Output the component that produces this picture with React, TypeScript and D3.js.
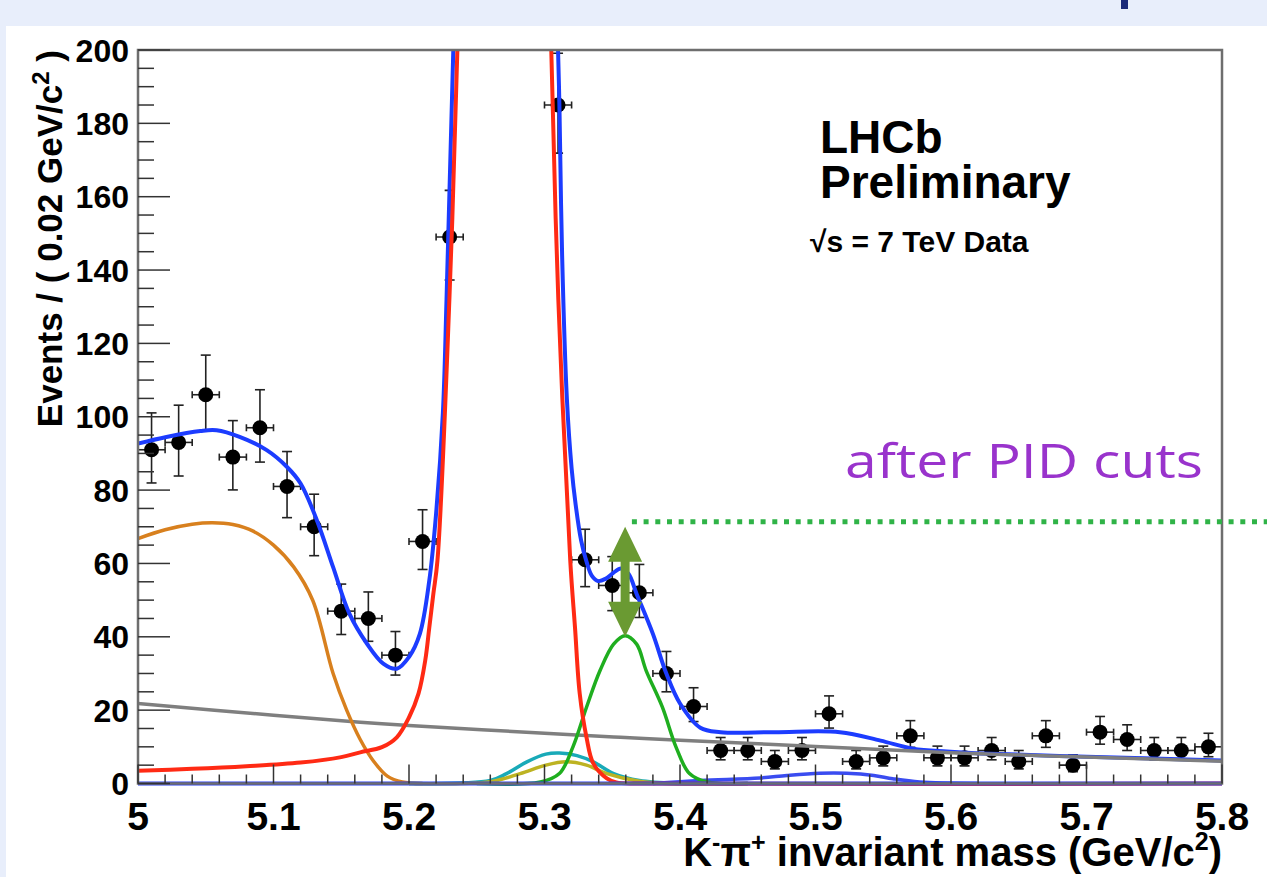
import React from "react";
import * as d3 from "d3";

// ---------- data ----------
const binCenters = [
  5.01, 5.03, 5.05, 5.07, 5.09, 5.11, 5.13, 5.15, 5.17, 5.19,
  5.21, 5.23, 5.25, 5.27, 5.29, 5.31, 5.33, 5.35, 5.37, 5.39,
  5.41, 5.43, 5.45, 5.47, 5.49, 5.51, 5.53, 5.55, 5.57, 5.59,
  5.61, 5.63, 5.65, 5.67, 5.69, 5.71, 5.73, 5.75, 5.77, 5.79,
];
const counts = [
  91, 93, 106, 89, 97, 81, 70, 47, 45, 35,
  66, 149, 420, 640, 480, 185, 61, 54, 52, 30,
  21, 9, 9, 6, 9, 19, 6, 7, 13, 7,
  7, 9, 6, 13, 5, 14, 12, 9, 9, 10,
];

const totalMass = [5.0, 5.021, 5.046, 5.058, 5.075, 5.095, 5.11, 5.12, 5.132, 5.144, 5.156, 5.169, 5.181, 5.191, 5.2, 5.208, 5.215, 5.22, 5.225, 5.2277, 5.2327, 5.25, 5.27, 5.29, 5.31, 5.3111, 5.313, 5.3165, 5.32, 5.323, 5.327, 5.331, 5.335, 5.3395, 5.345, 5.351, 5.3565, 5.362, 5.368, 5.38, 5.39, 5.4, 5.415, 5.43, 5.47, 5.518, 5.548, 5.572, 5.597, 5.622, 5.7, 5.8];
const totalVal = [92.7, 94.5, 96.1, 96.3, 94.5, 90.9, 86.3, 81.8, 71.8, 59, 46.3, 38.1, 32.7, 31.3, 34.5, 40.8, 55.4, 73.6, 101, 132, 200, 450, 700, 450, 200, 183, 144, 105, 86, 76, 66.3, 60.5, 56.6, 55.2, 55.8, 57.5, 58.6, 57.2, 51.7, 40.8, 29.9, 21.8, 15.2, 14, 14, 14, 11.7, 9.5, 8.7, 8.2, 7.3, 6.3];

const redMass = [5.0, 5.04, 5.08, 5.12, 5.15, 5.164, 5.18, 5.191, 5.2, 5.207, 5.212, 5.215, 5.218, 5.221, 5.2298, 5.2357, 5.25, 5.27, 5.29, 5.305, 5.3102, 5.319, 5.3225, 5.326, 5.331, 5.336, 5.346, 5.353, 5.37, 5.8];
const redVal = [3.5, 4.0, 4.7, 5.7, 7.2, 8.5, 9.9, 12.6, 18, 24.5, 33.6, 42.6, 51.8, 60.8, 132, 200, 420, 680, 420, 200, 132, 60.8, 42.6, 24.5, 12.6, 5.5, 1.4, 0.3, 0, 0];

const orangeMass = [5.0, 5.02, 5.04, 5.055, 5.07, 5.085, 5.1, 5.115, 5.129, 5.144, 5.154, 5.164, 5.174, 5.184, 5.195, 5.21];
const orangeVal = [66.8, 69.2, 70.7, 71.1, 70.6, 68.8, 65, 59, 49.9, 30, 20, 12, 6, 2, 0.4, 0];

const greyMass = [5.0, 5.1, 5.164, 5.2, 5.3, 5.356, 5.4, 5.5, 5.6, 5.7, 5.8];
const greyVal = [21.8, 18.6, 16.7, 15.8, 13.7, 12.6, 11.8, 10.1, 8.4, 7.2, 6.1];

const greenMass = [5.25, 5.297, 5.311, 5.321, 5.331, 5.341, 5.351, 5.3595, 5.368, 5.375, 5.387, 5.397, 5.407, 5.42, 5.45];
const greenVal = [0, 0.4, 2.7, 10, 20.8, 30.8, 38, 40.3, 38, 30.8, 20.8, 10, 2.7, 0.4, 0];

const cyanMass = [5.2, 5.26, 5.272, 5.287, 5.301, 5.311, 5.324, 5.336, 5.351, 5.37, 5.4, 5.45];
const cyanVal = [0, 0.8, 2.7, 5.9, 8, 8.3, 7.6, 5.9, 2.7, 0.8, 0, 0];

const oliveMass = [5.2, 5.26, 5.282, 5.301, 5.316, 5.331, 5.346, 5.37, 5.39, 5.45];
const oliveVal = [0, 0.5, 2.7, 5, 5.9, 5, 2.7, 0.6, 0, 0];

const bumpMass = [5.38, 5.415, 5.459, 5.479, 5.503, 5.523, 5.543, 5.557, 5.577, 5.62];
const bumpVal = [0, 0.8, 1.5, 2.2, 2.8, 2.8, 2.2, 1.3, 0.4, 0];

const baseMass = [5.0, 5.8];
const baseVal = [0, 0];

const xTicks = [5, 5.1, 5.2, 5.3, 5.4, 5.5, 5.6, 5.7, 5.8];
const yTicks = [0, 20, 40, 60, 80, 100, 120, 140, 160, 180, 200];

// annotation levels (in data units)
const arrowMass = 5.3595;
const arrowTop = 70;
const arrowBottom = 40;
const dottedLevel = 71.4;
const dottedStart = 5.3645;

// ---------- layout ----------
const W = 1267;
const H = 877;
const x = d3.scaleLinear().domain([5, 5.8]).range([138, 1222]);
const y = d3.scaleLinear().domain([0, 200]).range([783.5, 50]);

const lineGen = d3
  .line<[number, number]>()
  .x((d) => x(d[0]))
  .y((d) => y(d[1]))
  .curve(d3.curveCatmullRom.alpha(0.5));

const path = (ms: number[], vs: number[]) =>
  lineGen(ms.map((m, i) => [m, vs[i]] as [number, number])) || "";

const FONT = "'Liberation Sans', Arial, Helvetica, sans-serif";

export default function App() {
  const minorX = d3.range(0, 41).map((i) => 5 + i * 0.02);
  const minorY = d3.range(0, 41).map((i) => i * 5);
  const px0 = x(5), px1 = x(5.8), py0 = y(0), py1 = y(200);

  const ax = x(arrowMass);
  const aT = y(arrowTop);
  const aB = y(arrowBottom);
  const headH = 35, headW = 17, shaftW = 4.5;
  const arrowPath = [
    `M${ax},${aT}`,
    `L${ax + headW},${aT + headH}`,
    `L${ax + shaftW},${aT + headH}`,
    `L${ax + shaftW},${aB - headH}`,
    `L${ax + headW},${aB - headH}`,
    `L${ax},${aB}`,
    `L${ax - headW},${aB - headH}`,
    `L${ax - shaftW},${aB - headH}`,
    `L${ax - shaftW},${aT + headH}`,
    `L${ax - headW},${aT + headH}`,
    "Z",
  ].join(" ");

  return (
    <div style={{ position: "absolute", left: 0, top: 0 }}>
      <svg width={W} height={H} style={{ display: "block" }}>
        <defs>
          <clipPath id="plot">
            <rect x={px0} y={py1} width={px1 - px0} height={py0 - py1 + 3} />
          </clipPath>
        </defs>
        <rect x={0} y={0} width={W} height={H} fill="#e8eefb" />
        <rect x={6} y={26} width={W - 6} height={H - 26} fill="#ffffff" />
        <rect x={1121} y={0} width={7} height={9} fill="#1b2a7a" />

        {/* data points */}
        <g clipPath="url(#plot)">
          {binCenters.map((c, i) => {
            const n = counts[i];
            const s = Math.sqrt(n + 0.25);
            const lo = n - (s - 0.5);
            const hi = n + (s + 0.5);
            const cx = x(c);
            const cy = y(n);
            const xl = x(c - 0.01);
            const xr = x(c + 0.01);
            return (
              <g key={i} stroke="#222" strokeWidth={1.6}>
                <line x1={cx} x2={cx} y1={y(hi)} y2={y(lo)} />
                <line x1={cx - 5} x2={cx + 5} y1={y(hi)} y2={y(hi)} />
                <line x1={cx - 5} x2={cx + 5} y1={y(lo)} y2={y(lo)} />
                <line x1={xl} x2={xr} y1={cy} y2={cy} />
                <line x1={xl} x2={xl} y1={cy - 3.5} y2={cy + 3.5} />
                <line x1={xr} x2={xr} y1={cy - 3.5} y2={cy + 3.5} />
                <circle cx={cx} cy={cy} r={7.5} fill="#000" stroke="none" />
              </g>
            );
          })}
        </g>

        {/* curves */}
        <g clipPath="url(#plot)" fill="none" strokeLinejoin="round">
          <path d={path(totalMass, totalVal)} stroke="#1c3cff" strokeWidth={4} />
          <path d={path(greyMass, greyVal)} stroke="#7f7f7f" strokeWidth={3.5} />
          <path d={path(orangeMass, orangeVal)} stroke="#d8801e" strokeWidth={3.5} />
          <path d={path(cyanMass, cyanVal)} stroke="#19aab8" strokeWidth={3.5} />
          <path d={path(oliveMass, oliveVal)} stroke="#bdb322" strokeWidth={3.5} />
          <path d={path(bumpMass, bumpVal)} stroke="#3a4cf0" strokeWidth={3.5} />
          <path d={path(greenMass, greenVal)} stroke="#1fae1f" strokeWidth={3.5} />
          <path d={path(redMass, redVal)} stroke="#ff2a14" strokeWidth={4} />
          <path d={path(baseMass, baseVal)} stroke="#2a3ff0" strokeWidth={4} />
        </g>

        {/* frame & ticks */}
        <rect x={px0} y={py1} width={px1 - px0} height={py0 - py1} fill="none" stroke="#6e6e6e" strokeWidth={2.5} />
        <g stroke="#333" strokeWidth={1.5}>
          {minorY.map((v, i) => (
            <line key={"yt" + i} x1={px0} x2={px0 + (v % 20 === 0 ? 32 : 16)} y1={y(v)} y2={y(v)} />
          ))}
          {minorX.map((v, i) => (
            <line key={"xt" + i} x1={x(v)} x2={x(v)} y1={py0} y2={py0 - (i % 5 === 0 ? 19 : 9)} />
          ))}
        </g>

        {/* tick labels */}
        <g fontFamily={FONT} fontWeight="bold" fill="#000">
          {yTicks.map((v) => (
            <text key={"yl" + v} x={129} y={y(v)} dy="0.36em" fontSize={32} textAnchor="end">
              {v}
            </text>
          ))}
          {xTicks.map((v) => (
            <text key={"xl" + v} x={x(v)} y={830} fontSize={39} textAnchor="middle">
              {v === 5 ? "5" : v.toFixed(1)}
            </text>
          ))}
        </g>

        {/* axis titles */}
        <text
          fontFamily={FONT}
          fontWeight="bold"
          fontSize={35}
          textAnchor="end"
          transform={`translate(62,50) rotate(-90)`}
        >
          Events / ( 0.02 GeV/c<tspan dy={-13} fontSize={24}>2</tspan><tspan dy={13}> )</tspan>
        </text>
        <text fontFamily={FONT} fontWeight="bold" fontSize={40} textAnchor="end" x={1222} y={866}>
          K<tspan dy={-15} fontSize={25}>-</tspan><tspan dy={15}>π</tspan><tspan dy={-15} fontSize={25}>+</tspan><tspan dy={15}> invariant mass (GeV/c</tspan><tspan dy={-16} fontSize={25}>2</tspan><tspan dy={16}>)</tspan>
        </text>

        {/* LHCb labels */}
        <g fontFamily={FONT} fontWeight="bold" fill="#000">
          <text x={820} y={153} fontSize={46}>LHCb</text>
          <text x={820} y={198} fontSize={46}>Preliminary</text>
          <text x={810} y={252} fontSize={30}>√s = 7 TeV Data</text>
        </g>

        {/* annotation */}
        <line
          x1={x(dottedStart)}
          x2={W}
          y1={y(dottedLevel)}
          y2={y(dottedLevel)}
          stroke="#2fb347"
          strokeWidth={5}
          strokeDasharray="5 6.7"
        />
        <path d={arrowPath} fill="#6a9a32" />
        <text
          x={845}
          y={478}
          fontFamily="'Open Sans', Lato, sans-serif"
          fontSize={47}
          fill="#9933cc"
          textLength={358}
          lengthAdjust="spacingAndGlyphs"
        >
          after PID cuts
        </text>
      </svg>
    </div>
  );
}
